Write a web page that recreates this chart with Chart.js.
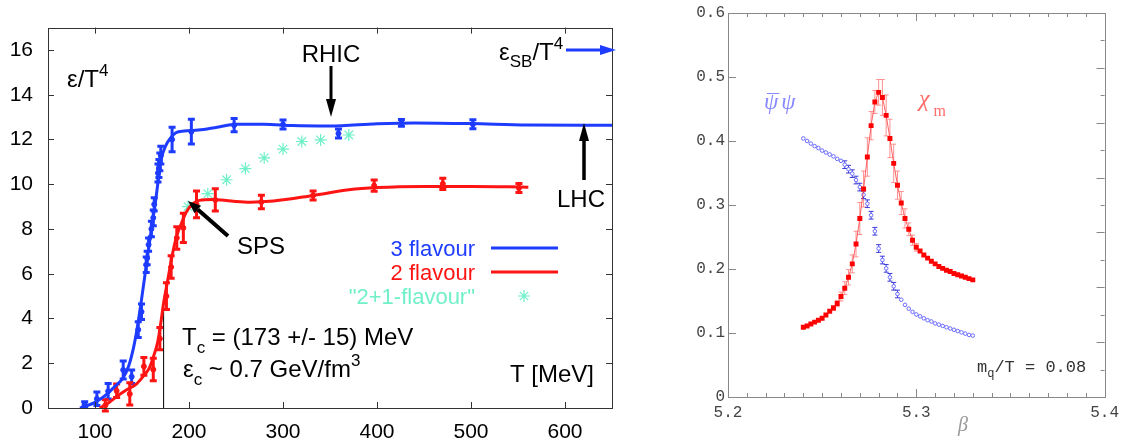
<!DOCTYPE html>
<html>
<head>
<meta charset="utf-8">
<script src="https://cdn.jsdelivr.net/npm/chart.js@4.4.1/dist/chart.umd.min.js"></script>
<style>
  body { margin: 0; background: #fff; width: 1125px; height: 439px; overflow: hidden; position: relative; }
  #left { position: absolute; left: 0; top: 0; }
  #right { position: absolute; left: 640px; top: 0; }
</style>
</head>
<body>
<canvas id="left" width="640" height="439"></canvas>
<canvas id="right" width="485" height="439"></canvas>
<script>
// ---------- left panel: energy density eps/T^4 vs T ----------
const leftXTicks = [100, 200, 300, 400, 500, 600];
const leftYTicks = [0, 2, 4, 6, 8, 10, 12, 14, 16];
const tcValue = 173, tcTop = 4.8;

// fitted curves
const blueCurveT = [84, 100, 112, 122, 130, 136, 141, 145, 150, 155, 160, 164, 168, 171, 175, 180, 186, 195, 210, 230, 250, 280, 310, 350, 400, 440, 500, 560, 650];
const blueCurveV = [0, 0.25, 0.6, 1.0, 1.35, 1.9, 2.7, 3.6, 5.0, 6.5, 8.0, 9.1, 10.4, 11.2, 11.7, 12.05, 12.3, 12.38, 12.42, 12.55, 12.68, 12.68, 12.62, 12.6, 12.7, 12.74, 12.71, 12.65, 12.64];
const redCurveT = [105, 115, 126, 135, 144, 152, 158, 163, 167, 170, 173, 176, 179, 183, 187, 191, 197, 204, 211, 225, 245, 265, 290, 332, 370, 400, 450, 500, 561];
const redCurveV = [0, 0.25, 0.6, 0.85, 1.07, 1.45, 1.8, 2.4, 3.0, 3.8, 4.7, 5.4, 6.1, 7.0, 7.7, 8.15, 8.75, 9.12, 9.28, 9.32, 9.25, 9.2, 9.25, 9.5, 9.75, 9.85, 9.9, 9.9, 9.87];

// lattice points
const blueT = [89, 102, 114, 130, 139, 146, 149.5, 154.5, 155.5, 157, 160, 162, 163, 167, 168, 169, 170, 182, 202.5, 248, 300, 359, 426, 502];
const blueV = [0.16, 0.41, 0.75, 1.7, 1.4, 3.5, 4.3, 6.4, 6.7, 7.3, 8.0, 8.5, 9.1, 10.5, 10.7, 11.0, 11.3, 12.0, 12.35, 12.64, 12.67, 12.27, 12.74, 12.68];
const blueErr = [0.12, 0.3, 0.35, 0.4, 0.3, 0.35, 0.35, 0.35, 0.3, 0.3, 0.35, 0.35, 0.3, 0.4, 0.4, 0.4, 0.4, 0.55, 0.55, 0.3, 0.2, 0.2, 0.15, 0.2];
const redT = [111, 123, 137, 152, 162, 169, 176, 181, 187, 194, 208, 228, 277, 332, 397, 470, 551];
const redV = [0.12, 0.77, 0.63, 1.86, 1.72, 3.1, 5.0, 6.3, 7.6, 8.05, 9.1, 9.3, 9.21, 9.5, 9.94, 10.02, 9.83];
const redErr = [0.25, 0.3, 0.5, 0.4, 0.5, 0.5, 0.6, 0.5, 0.5, 0.65, 0.6, 0.5, 0.3, 0.2, 0.25, 0.25, 0.2];
const cyanT = [199, 220, 240, 260, 280, 300, 320, 340, 370];
const cyanV = [9.0, 9.58, 10.2, 10.7, 11.18, 11.57, 11.91, 11.98, 12.2];

// ---------- right panel: chiral condensate and susceptibility vs beta ----------
const betaVals = [
  5.240, 5.242, 5.244, 5.246, 5.248, 5.250, 5.252, 5.254, 5.256, 5.258,
  5.260, 5.262, 5.264, 5.266, 5.268, 5.270, 5.272, 5.274, 5.276, 5.278,
  5.280, 5.282, 5.284, 5.286, 5.288, 5.290, 5.292, 5.294, 5.296, 5.298,
  5.300, 5.302, 5.304, 5.306, 5.308, 5.310, 5.312, 5.314, 5.316, 5.318,
  5.320, 5.322, 5.324, 5.326, 5.328, 5.330];
const psiVals = [
  0.404, 0.400, 0.396, 0.392, 0.389, 0.385, 0.382, 0.379, 0.376, 0.372,
  0.369, 0.363, 0.356, 0.349, 0.339, 0.328, 0.316, 0.302, 0.284, 0.259,
  0.232, 0.214, 0.201, 0.187, 0.173, 0.161, 0.152, 0.144, 0.138, 0.133,
  0.129, 0.126, 0.123, 0.120, 0.118, 0.115, 0.113, 0.111, 0.109, 0.107,
  0.105, 0.103, 0.101, 0.099, 0.097, 0.096];
const psiErr = [
  0, 0, 0, 0, 0, 0, 0, 0, 0, 0,
  0, 0.006, 0.006, 0.006, 0.006, 0.006, 0.006, 0.006, 0.006, 0.006,
  0.006, 0.006, 0.006, 0.006, 0.006, 0.006, 0, 0, 0, 0,
  0, 0, 0, 0, 0, 0, 0, 0, 0, 0,
  0, 0, 0, 0, 0, 0];
const chiVals = [
  0.109, 0.111, 0.114, 0.117, 0.120, 0.123, 0.128, 0.134, 0.139, 0.146,
  0.157, 0.170, 0.187, 0.208, 0.239, 0.279, 0.325, 0.375, 0.424, 0.461,
  0.476, 0.468, 0.440, 0.404, 0.365, 0.331, 0.303, 0.279, 0.262, 0.245,
  0.234, 0.228, 0.222, 0.217, 0.212, 0.208, 0.204, 0.201, 0.198, 0.196,
  0.193, 0.191, 0.189, 0.187, 0.185, 0.183];
const chiErr = [
  0, 0, 0, 0, 0, 0, 0, 0, 0.004, 0.005,
  0.007, 0.010, 0.012, 0.014, 0.020, 0.025, 0.028, 0.030, 0.022, 0.018,
  0.020, 0.028, 0.032, 0.030, 0.030, 0.022, 0.018, 0.015, 0.010, 0.008,
  0.006, 0, 0, 0, 0, 0, 0, 0, 0, 0,
  0, 0, 0, 0, 0, 0];
const rightXTicks = [5.2, 5.3, 5.4];
const rightYTicks = [0, 0.1, 0.2, 0.3, 0.4, 0.5, 0.6];

const BLUE = '#1e3cff', RED = '#ff1414', CYAN = '#6ff0c8';
const SANS = '"Liberation Sans", Arial, sans-serif';
const MONO = '"Liberation Mono", "DejaVu Sans Mono", monospace';
const SERIF = '"Liberation Serif", "DejaVu Serif", serif';

const pts = (xs, ys) => xs.map((x, i) => ({ x: x, y: ys[i] }));

// error bars for any dataset that carries an `errors` array
const errorBars = {
  id: 'errorBars',
  beforeDatasetsDraw(chart) {
    const { ctx, scales: { x, y } } = chart;
    chart.data.datasets.forEach(ds => {
      if (!ds.errors) return;
      ctx.save();
      ctx.strokeStyle = ds.errColor;
      ctx.lineWidth = ds.errWidth;
      ctx.beginPath();
      ds.data.forEach((p, j) => {
        const e = ds.errors[j];
        if (!e) return;
        const px = x.getPixelForValue(p.x);
        const lo = y.getPixelForValue(p.y - e), hi = y.getPixelForValue(p.y + e);
        ctx.moveTo(px, lo); ctx.lineTo(px, hi);
        ctx.moveTo(px - ds.capW, lo); ctx.lineTo(px + ds.capW, lo);
        ctx.moveTo(px - ds.capW, hi); ctx.lineTo(px + ds.capW, hi);
      });
      ctx.stroke();
      ctx.restore();
    });
  }
};

// box frame with inward ticks
function frameTicks(spec) {
  return {
    id: 'frameTicks',
    afterDatasetsDraw(chart) {
      const { ctx, chartArea: a, scales } = chart;
      ctx.save();
      ctx.strokeStyle = spec.color;
      ctx.lineWidth = 1;
      ctx.strokeRect(Math.round(a.left) + 0.5, Math.round(a.top) + 0.5, Math.round(a.right - a.left), Math.round(a.bottom - a.top));
      ctx.beginPath();
      spec.x.forEach(([v, len]) => {
        const p = Math.round(scales.x.getPixelForValue(v)) + 0.5;
        ctx.moveTo(p, a.bottom); ctx.lineTo(p, a.bottom - len);
        ctx.moveTo(p, a.top); ctx.lineTo(p, a.top + len);
      });
      spec.yl.forEach(([v, len]) => {
        const p = Math.round(scales.y.getPixelForValue(v)) + 0.5;
        ctx.moveTo(a.left, p); ctx.lineTo(a.left + len, p);
      });
      spec.yr.forEach(([f, len]) => {
        const p = Math.round(a.bottom - f * (a.bottom - a.top)) + 0.5;
        ctx.moveTo(a.right, p); ctx.lineTo(a.right - len, p);
      });
      ctx.stroke();
      ctx.restore();
    }
  };
}

function runs(ctx, x, y, parts, color) {
  ctx.fillStyle = color;
  ctx.textAlign = 'left';
  ctx.textBaseline = 'alphabetic';
  parts.forEach(p => {
    ctx.font = p.f;
    ctx.fillText(p.t, x, y + (p.dy || 0));
    x += ctx.measureText(p.t).width;
  });
  return x;
}

function arrow(ctx, x1, y1, x2, y2, w, head, half, color) {
  const ang = Math.atan2(y2 - y1, x2 - x1);
  const bx = x2 - head * Math.cos(ang), by = y2 - head * Math.sin(ang);
  ctx.strokeStyle = color; ctx.fillStyle = color; ctx.lineWidth = w;
  ctx.beginPath(); ctx.moveTo(x1, y1); ctx.lineTo(bx, by); ctx.stroke();
  ctx.beginPath();
  ctx.moveTo(x2, y2);
  ctx.lineTo(bx - half * Math.sin(ang), by + half * Math.cos(ang));
  ctx.lineTo(bx + half * Math.sin(ang), by - half * Math.cos(ang));
  ctx.closePath(); ctx.fill();
}

const leftNotes = {
  id: 'leftNotes',
  afterDraw(chart) {
    const ctx = chart.ctx;
    const big = '24px ' + SANS, sub = '17px ' + SANS;
    ctx.save();
    runs(ctx, 67, 87, [{ t: 'ε/T', f: big }, { t: '4', f: sub, dy: -11 }], '#000');
    ctx.font = big; ctx.fillStyle = '#000'; ctx.textAlign = 'center';
    ctx.fillText('RHIC', 331, 62);
    arrow(ctx, 331, 66, 331, 117, 3, 18, 5, '#000');
    runs(ctx, 499, 60, [{ t: 'ε', f: big }, { t: 'SB', f: sub, dy: 7 }, { t: '/T', f: big }, { t: '4', f: sub, dy: -11 }], '#000');
    arrow(ctx, 566, 50, 616, 50, 3, 16, 5, BLUE);
    runs(ctx, 557, 207, [{ t: 'LHC', f: big }], '#000');
    arrow(ctx, 584, 180, 584, 123, 3.5, 18, 5, '#000');
    runs(ctx, 237, 254, [{ t: 'SPS', f: big }], '#000');
    arrow(ctx, 228, 236, 188, 201, 4, 13, 5, '#000');
    runs(ctx, 182, 345, [{ t: 'T', f: big }, { t: 'c', f: sub, dy: 8 }, { t: ' = (173 +/- 15) MeV', f: big }], '#000');
    runs(ctx, 183, 377, [{ t: 'ε', f: big }, { t: 'c', f: sub, dy: 8 }, { t: ' ~ 0.7 GeV/fm', f: big }, { t: '3', f: sub, dy: -11 }], '#000');
    runs(ctx, 510, 382, [{ t: 'T [MeV]', f: big }], '#000');
    // legend
    const lg = '22px ' + SANS;
    ctx.font = lg; ctx.textAlign = 'right';
    ctx.fillStyle = BLUE; ctx.fillText('3 flavour', 475, 256);
    ctx.fillStyle = RED; ctx.fillText('2 flavour', 475, 280);
    ctx.fillStyle = CYAN; ctx.fillText('"2+1-flavour"', 475, 304);
    ctx.lineWidth = 3;
    ctx.strokeStyle = BLUE; ctx.beginPath(); ctx.moveTo(491, 248); ctx.lineTo(558, 248); ctx.stroke();
    ctx.strokeStyle = RED; ctx.beginPath(); ctx.moveTo(491, 272); ctx.lineTo(558, 272); ctx.stroke();
    ctx.strokeStyle = CYAN; ctx.lineWidth = 1.2; ctx.beginPath();
    const cx = 524, cy = 296, r = 6;
    ctx.moveTo(cx - r, cy); ctx.lineTo(cx + r, cy); ctx.moveTo(cx, cy - r); ctx.lineTo(cx, cy + r);
    ctx.moveTo(cx - r * 0.7, cy - r * 0.7); ctx.lineTo(cx + r * 0.7, cy + r * 0.7);
    ctx.moveTo(cx - r * 0.7, cy + r * 0.7); ctx.lineTo(cx + r * 0.7, cy - r * 0.7);
    ctx.stroke();
    ctx.restore();
  }
};

const rightNotes = {
  id: 'rightNotes',
  afterDraw(chart) {
    const ctx = chart.ctx;
    ctx.save();
    // psi-bar psi, with the bar drawn by hand over the first psi
    const psiFont = 'italic 23px ' + SERIF;
    const x1 = runs(ctx, 124, 109, [{ t: 'ψ', f: psiFont }], '#8888ff');
    runs(ctx, x1 + 3, 109, [{ t: 'ψ', f: psiFont }], '#8888ff');
    ctx.strokeStyle = '#8888ff'; ctx.lineWidth = 1;
    ctx.beginPath(); ctx.moveTo(127, 93.5); ctx.lineTo(x1 + 1, 93.5); ctx.stroke();
    runs(ctx, 279, 106, [{ t: 'χ', f: 'italic 24px ' + SERIF }, { t: ' m', f: '16px ' + SERIF, dy: 10 }], '#ff6a6a');
    runs(ctx, 337, 372, [{ t: 'm', f: '17px ' + MONO }, { t: 'q', f: '12px ' + MONO, dy: 5 }, { t: '/T = 0.08', f: '17px ' + MONO }], '#333');
    ctx.font = 'italic 20px ' + SERIF; ctx.fillStyle = '#999'; ctx.textAlign = 'center';
    ctx.fillText('β', 323, 431);
    ctx.restore();
  }
};

const leftXFrame = leftXTicks.map(v => [v, 6]);
const leftYFrame = leftYTicks.map(v => [v, 6]);

new Chart(document.getElementById('left'), {
  type: 'scatter',
  data: {
    datasets: [
      { label: '3 flavour fit', data: pts(blueCurveT, blueCurveV), showLine: true, borderColor: BLUE, borderWidth: 3, pointRadius: 0, cubicInterpolationMode: 'monotone' },
      { label: '2 flavour fit', data: pts(redCurveT, redCurveV), showLine: true, borderColor: RED, borderWidth: 3, pointRadius: 0, cubicInterpolationMode: 'monotone' },
      { label: 'Tc', data: [{ x: tcValue, y: 0 }, { x: tcValue, y: tcTop }], showLine: true, borderColor: '#000', borderWidth: 1, pointRadius: 0 },
      { label: '"2+1-flavour"', data: pts(cyanT, cyanV), pointStyle: 'star', pointRadius: 6, borderColor: CYAN, backgroundColor: CYAN, borderWidth: 1.2 },
      { label: '3 flavour', data: pts(blueT, blueV), errors: blueErr, errColor: BLUE, errWidth: 3, capW: 3.5, pointRadius: 2.5, backgroundColor: BLUE, borderColor: BLUE },
      { label: '2 flavour', data: pts(redT, redV), errors: redErr, errColor: RED, errWidth: 3, capW: 3.5, pointRadius: 2.5, backgroundColor: RED, borderColor: RED }
    ]
  },
  options: {
    responsive: false,
    animation: false,
    layout: { padding: { top: 18, right: 28, left: 0, bottom: 0 } },
    plugins: { legend: { display: false }, tooltip: { enabled: false } },
    scales: {
      x: {
        type: 'linear', min: 50, max: 650,
        afterBuildTicks: s => { s.ticks = leftXTicks.map(v => ({ value: v })); },
        afterFit: s => { s.height = 31; },
        grid: { display: false, drawTicks: false },
        border: { display: false },
        ticks: { font: { family: SANS, size: 21 }, color: '#000', padding: 12, maxRotation: 0, autoSkip: false }
      },
      y: {
        min: 0, max: 17,
        afterBuildTicks: s => { s.ticks = leftYTicks.map(v => ({ value: v })); },
        afterFit: s => { s.width = 48; },
        grid: { display: false, drawTicks: false },
        border: { display: false },
        ticks: { font: { family: SANS, size: 21 }, color: '#000', padding: 15, autoSkip: false }
      }
    }
  },
  plugins: [errorBars, frameTicks({ color: '#333', x: leftXFrame, yl: leftYFrame, yr: leftYTicks.map(v => [v / 17, 6]) }), leftNotes]
});

// right panel decorations: minor ticks every 0.01 in beta, 0.05 on the right-hand scale
const rightXFrame = [];
for (let k = 1; k < 20; k++) rightXFrame.push([5.2 + k * 0.01, k === 10 ? 8 : 4]);
const rightYFrame = rightYTicks.map(v => [v, 8]);
const rightRFrame = [];
for (let k = 1; k < 14; k++) rightRFrame.push([k / 14, k % 2 === 0 ? 8 : 4]);

new Chart(document.getElementById('right'), {
  type: 'scatter',
  data: {
    datasets: [
      { label: 'chi_m', data: pts(betaVals, chiVals), errors: chiErr, errColor: '#ff9090', errWidth: 1, capW: 2.5, showLine: true, borderColor: 'rgba(255,60,60,0.8)', borderWidth: 1, pointStyle: 'rect', pointRadius: 3.5, backgroundColor: '#ff0000', pointBorderColor: '#ff0000', pointBorderWidth: 0 },
      { label: 'psibar psi', data: pts(betaVals, psiVals), errors: psiErr, errColor: '#3a3ad8', errWidth: 1, capW: 2.5, pointStyle: 'circle', pointRadius: 1.8, backgroundColor: '#fff', borderColor: '#6a6aff', borderWidth: 1 }
    ]
  },
  options: {
    responsive: false,
    animation: false,
    layout: { padding: { top: 13, right: 13, left: 0, bottom: 0 } },
    plugins: { legend: { display: false }, tooltip: { enabled: false } },
    scales: {
      x: {
        type: 'linear', min: 5.2, max: 5.4,
        afterBuildTicks: s => { s.ticks = rightXTicks.map(v => ({ value: v })); },
        afterFit: s => { s.height = 42; },
        grid: { display: false, drawTicks: false },
        border: { display: false },
        ticks: { font: { family: MONO, size: 16 }, color: '#444', padding: 6, maxRotation: 0, autoSkip: false, callback: v => v.toFixed(1) }
      },
      y: {
        min: 0, max: 0.6,
        afterBuildTicks: s => { s.ticks = rightYTicks.map(v => ({ value: v })); },
        afterFit: s => { s.width = 88; },
        grid: { display: false, drawTicks: false },
        border: { display: false },
        ticks: { font: { family: MONO, size: 16 }, color: '#444', padding: 3, autoSkip: false, callback: v => v === 0 ? '0' : v.toFixed(1) }
      }
    }
  },
  plugins: [errorBars, frameTicks({ color: '#888', x: rightXFrame, yl: rightYFrame, yr: rightRFrame }), rightNotes]
});
</script>
</body>
</html>
